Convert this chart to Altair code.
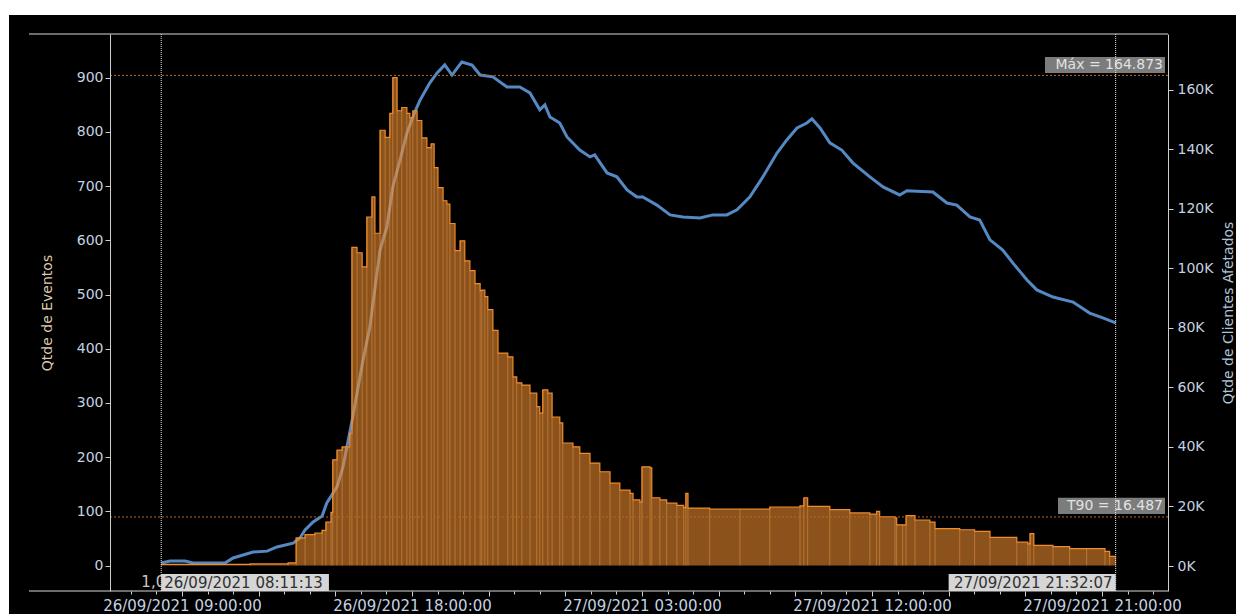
import altair as alt
import pandas as pd

# ---------------- data ----------------
# Qtde de Clientes Afetados (blue line, right axis)
cli_time = [
    "2021-09-26T08:11:13Z", "2021-09-26T08:32:00Z", "2021-09-26T09:07:00Z", "2021-09-26T09:26:00Z",
    "2021-09-26T10:41:00Z", "2021-09-26T11:00:00Z", "2021-09-26T11:47:00Z", "2021-09-26T12:20:00Z",
    "2021-09-26T12:43:00Z", "2021-09-26T13:21:00Z", "2021-09-26T13:37:00Z", "2021-09-26T13:49:00Z",
    "2021-09-26T14:08:00Z", "2021-09-26T14:29:00Z", "2021-09-26T14:40:00Z", "2021-09-26T15:04:00Z",
    "2021-09-26T15:18:00Z", "2021-09-26T15:41:00Z", "2021-09-26T16:05:00Z", "2021-09-26T16:21:00Z",
    "2021-09-26T16:45:00Z", "2021-09-26T17:01:00Z", "2021-09-26T17:15:00Z", "2021-09-26T17:32:00Z",
    "2021-09-26T17:48:00Z", "2021-09-26T18:02:00Z", "2021-09-26T18:12:00Z", "2021-09-26T18:19:00Z",
    "2021-09-26T18:42:00Z", "2021-09-26T18:59:00Z", "2021-09-26T19:17:00Z", "2021-09-26T19:34:00Z",
    "2021-09-26T19:57:00Z", "2021-09-26T20:21:00Z", "2021-09-26T20:40:00Z", "2021-09-26T21:10:00Z",
    "2021-09-26T21:43:00Z", "2021-09-26T22:13:00Z", "2021-09-26T22:37:00Z", "2021-09-26T23:00:00Z",
    "2021-09-26T23:12:00Z", "2021-09-26T23:24:00Z", "2021-09-26T23:47:00Z", "2021-09-27T00:04:00Z",
    "2021-09-27T00:34:00Z", "2021-09-27T00:58:00Z", "2021-09-27T01:09:00Z", "2021-09-27T01:38:00Z",
    "2021-09-27T02:01:00Z", "2021-09-27T02:25:00Z", "2021-09-27T02:48:00Z", "2021-09-27T03:02:00Z",
    "2021-09-27T03:35:00Z", "2021-09-27T04:06:00Z", "2021-09-27T04:36:00Z", "2021-09-27T05:16:00Z",
    "2021-09-27T05:46:00Z", "2021-09-27T06:19:00Z", "2021-09-27T06:43:00Z", "2021-09-27T07:13:00Z",
    "2021-09-27T07:44:00Z", "2021-09-27T08:17:00Z", "2021-09-27T08:40:00Z", "2021-09-27T09:04:00Z",
    "2021-09-27T09:27:00Z", "2021-09-27T09:39:00Z", "2021-09-27T09:58:00Z", "2021-09-27T10:21:00Z",
    "2021-09-27T10:49:00Z", "2021-09-27T11:15:00Z", "2021-09-27T11:55:00Z", "2021-09-27T12:26:00Z",
    "2021-09-27T13:05:00Z", "2021-09-27T13:22:00Z", "2021-09-27T14:23:00Z", "2021-09-27T14:56:00Z",
    "2021-09-27T15:19:00Z", "2021-09-27T15:50:00Z", "2021-09-27T16:13:00Z", "2021-09-27T16:37:00Z",
    "2021-09-27T17:07:00Z", "2021-09-27T17:31:00Z", "2021-09-27T18:04:00Z", "2021-09-27T18:27:00Z",
    "2021-09-27T19:05:00Z", "2021-09-27T19:52:00Z", "2021-09-27T20:31:00Z", "2021-09-27T21:02:00Z",
    "2021-09-27T21:32:07Z",
]
cli_value = [
    1000, 1700, 1700, 1000,
    1000, 2700, 4700, 5000,
    6400, 7700, 9400, 12100,
    14800, 16800, 21200, 26600,
    33300, 50100, 69200, 80300,
    106200, 113900, 127400, 136500,
    145500, 150900, 154300, 156600,
    162400, 165700, 168400, 165000,
    169400, 168400, 165000, 164400,
    161000, 161000, 159000, 153300,
    155000, 150900, 148900, 144200,
    139800, 137500, 138200, 132100,
    130800, 126400, 124000, 124000,
    121300, 118000, 117300, 117000,
    118000, 118000, 119700, 124000,
    130800, 138800, 143200, 147200,
    148900, 150300, 147200, 142200,
    139800, 135500, 130800, 127400,
    124700, 126100, 125700, 122000,
    121300, 117300, 116300, 109600,
    106200, 101800, 96100, 92800,
    90400, 88700, 85000, 83400,
    81700,
]

# Qtde de Eventos (orange bars, left axis)
ev_time = [
    "2021-09-26T08:11:13Z", "2021-09-26T11:40:00Z", "2021-09-26T13:09:00Z", "2021-09-26T13:28:00Z",
    "2021-09-26T13:49:00Z", "2021-09-26T14:12:00Z", "2021-09-26T14:29:00Z", "2021-09-26T14:38:00Z",
    "2021-09-26T14:50:00Z", "2021-09-26T14:54:00Z", "2021-09-26T15:04:00Z", "2021-09-26T15:16:00Z",
    "2021-09-26T15:34:00Z", "2021-09-26T15:39:00Z", "2021-09-26T15:51:00Z", "2021-09-26T16:03:00Z",
    "2021-09-26T16:14:00Z", "2021-09-26T16:26:00Z", "2021-09-26T16:33:00Z", "2021-09-26T16:45:00Z",
    "2021-09-26T16:57:00Z", "2021-09-26T17:08:00Z", "2021-09-26T17:15:00Z", "2021-09-26T17:25:00Z",
    "2021-09-26T17:36:00Z", "2021-09-26T17:48:00Z", "2021-09-26T17:55:00Z", "2021-09-26T18:02:00Z",
    "2021-09-26T18:12:00Z", "2021-09-26T18:23:00Z", "2021-09-26T18:35:00Z", "2021-09-26T18:45:00Z",
    "2021-09-26T18:52:00Z", "2021-09-26T19:01:00Z", "2021-09-26T19:13:00Z", "2021-09-26T19:22:00Z",
    "2021-09-26T19:29:00Z", "2021-09-26T19:41:00Z", "2021-09-26T19:53:00Z", "2021-09-26T20:04:00Z",
    "2021-09-26T20:16:00Z", "2021-09-26T20:28:00Z", "2021-09-26T20:40:00Z", "2021-09-26T20:44:00Z",
    "2021-09-26T20:51:00Z", "2021-09-26T20:58:00Z", "2021-09-26T21:10:00Z", "2021-09-26T21:22:00Z",
    "2021-09-26T21:45:00Z", "2021-09-26T21:57:00Z", "2021-09-26T22:06:00Z", "2021-09-26T22:18:00Z",
    "2021-09-26T22:37:00Z", "2021-09-26T22:53:00Z", "2021-09-26T23:00:00Z", "2021-09-26T23:07:00Z",
    "2021-09-26T23:19:00Z", "2021-09-26T23:29:00Z", "2021-09-26T23:47:00Z", "2021-09-26T23:54:00Z",
    "2021-09-27T00:18:00Z", "2021-09-27T00:34:00Z", "2021-09-27T00:58:00Z", "2021-09-27T01:21:00Z",
    "2021-09-27T01:45:00Z", "2021-09-27T02:08:00Z", "2021-09-27T02:32:00Z", "2021-09-27T02:39:00Z",
    "2021-09-27T02:55:00Z", "2021-09-27T03:00:00Z", "2021-09-27T03:19:00Z", "2021-09-27T03:23:00Z",
    "2021-09-27T03:42:00Z", "2021-09-27T03:58:00Z", "2021-09-27T04:22:00Z", "2021-09-27T04:38:00Z",
    "2021-09-27T04:43:00Z", "2021-09-27T04:48:00Z", "2021-09-27T05:39:00Z", "2021-09-27T06:50:00Z",
    "2021-09-27T08:00:00Z", "2021-09-27T09:11:00Z", "2021-09-27T09:20:00Z", "2021-09-27T09:29:00Z",
    "2021-09-27T10:21:00Z", "2021-09-27T11:08:00Z", "2021-09-27T11:55:00Z", "2021-09-27T12:11:00Z",
    "2021-09-27T12:18:00Z", "2021-09-27T12:54:00Z", "2021-09-27T12:58:00Z", "2021-09-27T13:12:00Z",
    "2021-09-27T13:20:00Z", "2021-09-27T13:41:00Z", "2021-09-27T14:16:00Z", "2021-09-27T14:28:00Z",
    "2021-09-27T15:26:00Z", "2021-09-27T16:01:00Z", "2021-09-27T16:37:00Z", "2021-09-27T17:40:00Z",
    "2021-09-27T18:06:00Z", "2021-09-27T18:11:00Z", "2021-09-27T18:20:00Z", "2021-09-27T19:05:00Z",
    "2021-09-27T19:44:00Z", "2021-09-27T20:24:00Z", "2021-09-27T21:07:00Z", "2021-09-27T21:18:00Z",
    "2021-09-27T21:32:07Z",
]
ev_value = [
    2, 3, 5, 51,
    57, 60, 65, 80,
    98, 195, 213, 219,
    244, 587, 577, 551,
    643, 680, 613, 803,
    790, 834, 900, 839,
    845, 834, 826, 839,
    821, 789, 771, 778,
    734, 697, 673, 667,
    631, 581, 599, 562,
    544, 520, 507, 508,
    496, 472, 434, 392,
    385, 348, 337, 333,
    318, 293, 281, 324,
    318, 274, 263, 226,
    219, 207, 189, 173,
    152, 139, 133, 121,
    117, 182, 180, 125,
    121, 115, 111, 107,
    133, 106, 104, 104,
    108, 110, 125, 109,
    103, 97, 95, 100,
    90, 88, 75, 75,
    92, 84, 80, 68,
    66, 63, 52, 43,
    40, 59, 37, 35,
    31, 31, 26, 17,
    17,
]

# reference lines / annotations
start_time = "2021-09-26T08:11:13Z"
end_time = "2021-09-27T21:32:07Z"
max_value = 164873
t90_value = 16487
max_label = "Máx = 164.873"
t90_label = "T90 = 16.487"
start_label = "26/09/2021 08:11:13"
end_label = "27/09/2021 21:32:07"
start_value_label = "1,0"

left_ticks = [0, 100, 200, 300, 400, 500, 600, 700, 800, 900]
right_ticks = [0, 20000, 40000, 60000, 80000, 100000, 120000, 140000, 160000]

# ---------------- helpers ----------------
def ms(s):
    return int(pd.Timestamp(s).value // 10**6)

BASE = ms("2021-09-26T00:00:00Z")
x_domain = [ms("2021-09-26T06:11:00Z"), ms("2021-09-27T23:35:00Z")]
x_tick_values = [ms(t) for t in pd.date_range("2021-09-26T07:00:00Z", "2021-09-27T23:00:00Z", freq="1h")]

W, H = 1058, 557
FONT = "DejaVu Sans"
LABEL_C = "#c4d2e0"
LINE_C = "#cfcfcf"

cli_df = pd.DataFrame({"t": cli_time, "v": cli_value})
ev_df = pd.DataFrame({"t": ev_time, "v": ev_value})
one = pd.DataFrame({"a": [0]})

xscale = alt.Scale(type="utc", domain=x_domain, nice=False)
xaxis = alt.Axis(
    values=x_tick_values,
    labelExpr=f"((datum.value - {BASE}) % 32400000 == 0) ? utcFormat(datum.value, '%d/%m/%Y %H:%M:%S') : ''",
    tickSize={"condition": {"test": f"(datum.value - {BASE}) % 10800000 == 0", "value": 5}, "value": 3},
    title=None, grid=False, domain=False, tickColor=LINE_C, labelColor=LABEL_C,
    labelFont=FONT, labelFontSize=15, labelPadding=2, labelOverlap=False, labelFlush=False,
    zindex=2,
)
yL_scale = alt.Scale(domain=[-47, 980.6], nice=False, zero=False)
yR_scale = alt.Scale(domain=[-8400, 178800], nice=False, zero=False)

yL_axis = alt.Axis(
    orient="left", values=left_ticks, title="Qtde de Eventos", grid=False,
    titleColor="#dcc9ab", titleFont=FONT, titleFontSize=14, titleFontWeight="normal", titlePadding=22,
    labelColor=LABEL_C, labelFont=FONT, labelFontSize=14, labelPadding=2,
    domainColor=LINE_C, tickColor=LINE_C, tickSize=5, zindex=2,
)
yR_axis = alt.Axis(
    orient="right", values=right_ticks, labelExpr="format(datum.value / 1000, 'd') + 'K'",
    title="Qtde de Clientes Afetados", titleAngle=270, titleX=60, titleY=H / 2,
    titleAlign="center", titleBaseline="middle", grid=False,
    titleColor="#b3c4d6", titleFont=FONT, titleFontSize=14, titleFontWeight="normal",
    labelColor=LABEL_C, labelFont=FONT, labelFontSize=14, labelPadding=4,
    domainColor=LINE_C, tickColor=LINE_C, tickSize=5, zindex=2,
)

def X(field=None, datum=None):
    if datum is not None:
        return alt.X(datum=ms(datum), type="temporal", scale=xscale, axis=xaxis)
    return alt.X(field, type="temporal", scale=xscale, axis=xaxis)

def X2(datum):
    return alt.X2(datum=ms(datum))

# ---------------- layers ----------------
bg = alt.Chart(one).mark_rect(color="black").encode(
    x=alt.value(-101), x2=alt.value(W + 68), y=alt.value(-19), y2=alt.value(H + 23)
)

blue = alt.Chart(cli_df).mark_line(color="#5589c4", strokeWidth=3).encode(
    x=X("t"), y=alt.Y("v:Q", scale=yR_scale, axis=yR_axis)
)

ev_area = alt.Chart(ev_df).mark_area(interpolate="step-after", color="#e8892e", opacity=0.6).encode(
    x=X("t"), y=alt.Y("v:Q", scale=yL_scale, axis=yL_axis, stack=None), y2=alt.Y2(datum=0)
)
ev_stripes = alt.Chart(ev_df).mark_rule(color="#f6a552", opacity=0.45, strokeWidth=1).encode(
    x=X("t"), y=alt.Y("v:Q", scale=yL_scale, axis=None), y2=alt.Y2(datum=0)
)
ev_top = alt.Chart(ev_df).mark_line(interpolate="step-after", color="#f08c2c", strokeWidth=1.2).encode(
    x=X("t"), y=alt.Y("v:Q", scale=yL_scale, axis=None)
)

ref_df = pd.DataFrame({"v": [max_value, t90_value]})
hlines = alt.Chart(ref_df).mark_rule(color="#b8661f", strokeDash=[2, 2], strokeWidth=1).encode(
    x=alt.value(0), x2=alt.value(W), y=alt.Y("v:Q", scale=yR_scale, axis=None)
)

def yR(d):
    return alt.Y(datum=d, type="quantitative", scale=yR_scale, axis=None)

max_box = alt.Chart(one).mark_rect(color="#7c7c7c").encode(
    x=alt.value(W - 123), x2=alt.value(W - 3), y=yR(165700), y2=alt.Y2(datum=171100)
)
max_txt = alt.Chart(one).mark_text(font=FONT, fontSize=14, color="#e2e2e2", align="right", baseline="middle").encode(
    x=alt.value(W - 5), y=yR(168400), text=alt.value(max_label)
)
t90_box = alt.Chart(one).mark_rect(color="#7c7c7c").encode(
    x=alt.value(W - 110), x2=alt.value(W - 3), y=yR(17500), y2=alt.Y2(datum=22900)
)
t90_txt = alt.Chart(one).mark_text(font=FONT, fontSize=14, color="#e2e2e2", align="right", baseline="middle").encode(
    x=alt.value(W - 5), y=yR(20200), text=alt.value(t90_label)
)

start_val_txt = alt.Chart(one).mark_text(font=FONT, fontSize=15, color="#c8c8c8", align="right", baseline="middle", dx=4).encode(
    x=X(datum=start_time), y=alt.value(H - 9), text=alt.value(start_value_label)
)
start_box = alt.Chart(one).mark_rect(color="#d6d6d6").encode(
    x=X(datum=start_time), x2=X2("2021-09-26T14:45:00Z"), y=alt.value(H - 17), y2=alt.value(H)
)
start_txt = alt.Chart(one).mark_text(font=FONT, fontSize=15, color="#303030", align="left", baseline="middle", dx=3).encode(
    x=X(datum=start_time), y=alt.value(H - 8), text=alt.value(start_label)
)
end_box = alt.Chart(one).mark_rect(color="#d6d6d6").encode(
    x=X(datum="2021-09-27T15:00:00Z"), x2=X2(end_time), y=alt.value(H - 17), y2=alt.value(H)
)
end_txt = alt.Chart(one).mark_text(font=FONT, fontSize=15, color="#303030", align="right", baseline="middle", dx=-3).encode(
    x=X(datum=end_time), y=alt.value(H - 8), text=alt.value(end_label)
)

vl_df = pd.DataFrame({"t": [start_time, end_time]})
vlines = alt.Chart(vl_df).mark_rule(color="#e6e6e6", strokeDash=[1, 1], strokeWidth=1).encode(
    x=X("t"), y=alt.value(0), y2=alt.value(H)
)

top_line = alt.Chart(one).mark_rule(color="#d8d8d8", strokeWidth=1).encode(
    x=alt.value(-81), x2=alt.value(W), y=alt.value(0)
)
bottom_line = alt.Chart(one).mark_rule(color="#d8d8d8", strokeWidth=1).encode(
    x=alt.value(-81), x2=alt.value(W), y=alt.value(H)
)

chart = alt.layer(
    bg, blue, ev_area, ev_stripes, ev_top, hlines,
    max_box, max_txt, t90_box, t90_txt,
    start_val_txt, start_box, start_txt, end_box, end_txt,
    vlines, top_line, bottom_line,
).resolve_scale(y="independent").properties(
    width=W, height=H,
    padding={"left": 1, "top": 7, "right": 0, "bottom": 0},
    background="white",
).configure_view(stroke=None)

chart.save("out.html", embed_options={"renderer": "svg", "actions": False})
